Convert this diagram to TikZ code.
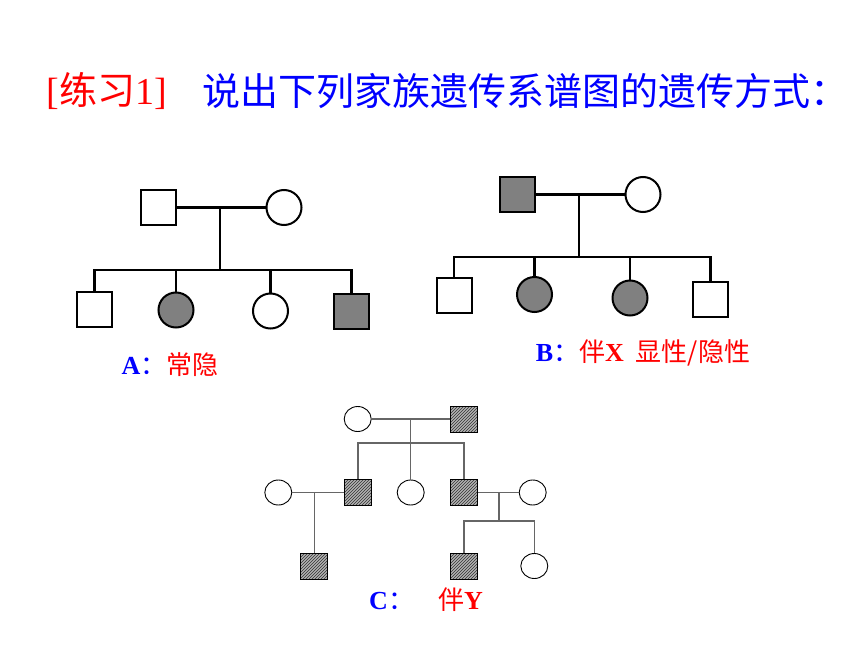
\documentclass[tikz,border=0pt]{standalone}
\usepackage{fontspec}
\setmainfont{Liberation Serif}
\newfontfamily\cjk{Noto Sans CJK SC}
\usetikzlibrary{shapes.geometric, patterns}

\begin{document}
\begin{tikzpicture}[x=1pt, y=-1pt, line width=2.2pt,
	man/.style={draw, line width=2pt, minimum size=35pt, inner sep=0pt},
	woman/.style={man, circle},
	cline/.style={draw=black!60, line width=1.4pt},
	cman/.style={draw, line width=0.9pt, minimum width=27pt, minimum height=26pt, inner sep=0pt, preaction={fill=gray!60}, pattern=north east lines, pattern color=black!80},
	cwoman/.style={draw, ellipse, line width=0.9pt, fill=white, minimum width=27pt, minimum height=25pt, inner sep=0pt},
	label/.style={font=\fontsize{26}{30}\selectfont}]
	\useasboundingbox (0,0) rectangle (860,645);
	
	\node[anchor=west, red, font=\fontsize{38}{42}\selectfont] (title1) at (42,91) {[{\cjk 练习}1]};
	\node[anchor=west, blue, font=\fontsize{38}{42}\selectfont\cjk] (title2) at (198,91) {说出下列家族遗传系谱图的遗传方式：};
	
	% A
	\node[man] at(158.5,207.5) (fa) {};
	\node[woman] at(284,207.5) (ma) {};
	\coordinate (am) at (220,207.5);
	\coordinate (ab) at (220,270);
	\node[man] at(94.5,309.5) (a1) {};
	\node[woman, fill=gray] at(176,310) (a2) {};
	\node[woman] at(270.5,311) (a3) {};
	\node[man, fill=gray] at(351.5,311.5) (a4) {};
	\draw (fa) -- (ma);
	\draw (am) -- (ab);
	\draw (a1) |- (ab) -| (a4);
	\draw (a2) |- (ab);
	\draw (a3) |- (ab);
	\node[label] at(170,365) (la) {\textcolor{blue}{\textbf{A}\cjk：}\textcolor{red}{\cjk 常隐}};
	
	% B
	\node[man, fill=gray] at(517,194.5) (fb) {};
	\node[woman] at(643,194.5) (mb) {};
	\coordinate (bm) at (579,194.5);
	\coordinate (bb) at (579,257);
	\node[man] at(454,295.5) (b1) {};
	\node[woman, fill=gray] at(534.5,294.5) (b2) {};
	\node[woman, fill=gray] at(630,298) (b3) {};
	\node[man] at(710.5,299) (b4) {};
	\draw (fb) -- (mb);
	\draw (bm) -- (bb);
	\draw (b1) |- (bb) -| (b4);
	\draw (b2) |- (bb);
	\draw (b3) |- (bb);
	\node[label] at(643,353) (lb) {\textcolor{blue}{\textbf{B}\cjk：}\textcolor{red}{\cjk 伴\textbf{\rmfamily X}\hspace{12pt}显性/隐性}};
	
	% C
	\node[cwoman] at(357.7,419) (c0) {};
	\node[cman] at(464,419) (c1) {};
	\coordinate (cm) at (410.7,419);
	\coordinate (cb) at (410.7,443);
	\node[cman] at(358,492.5) (c2) {};
	\node[cwoman] at(410.7,492.5) (c3) {};
	\node[cman] at(464,492.5) (c4) {};
	\node[cwoman] at(278.3,492.5) (c5) {};
	\node[cwoman] at(532.7,492.5) (c6) {};
	\coordinate (cl) at (314.3,492.5);
	\coordinate (cr) at (499,492.5);
	\coordinate (crb) at (499,521);
	\node[cman] at(314.3,566) (c7) {};
	\node[cman] at(464,566) (c8) {};
	\node[cwoman] at(534.3,566) (c9) {};
	\draw[cline] (c0) -- (c1);
	\draw[cline] (cm) -- (cb);
	\draw[cline] (c2) |- (cb) -| (c4);
	\draw[cline] (c3) -- (cb);
	\draw[cline] (c5) -- (c2);
	\draw[cline] (cl) -- (c7);
	\draw[cline] (c4) -- (c6);
	\draw[cline] (cr) -- (crb);
	\draw[cline] (c8) |- (crb) -| (c9);
	\node[label] at(426,600) (lc) {\textcolor{blue}{\textbf{C}\cjk：}\hspace{24pt}\textcolor{red}{\cjk 伴\textbf{\rmfamily Y}}};
\end{tikzpicture}
\end{document}
